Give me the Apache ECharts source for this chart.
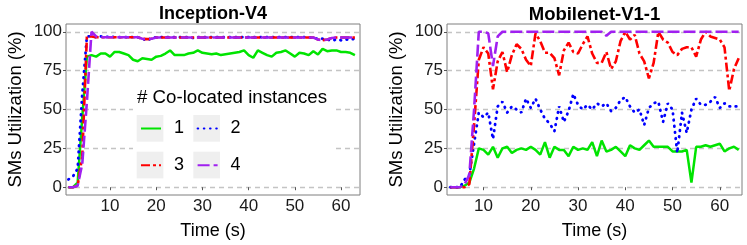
<!DOCTYPE html>
<html><head><meta charset="utf-8">
<script src="https://cdn.jsdelivr.net/npm/echarts@6/dist/echarts.min.js"></script>
<style>html,body{margin:0;padding:0;background:#fff}#c{width:747px;height:245px}</style>
</head><body><div id="c"></div>
<script>
// ---------- data ----------
const inceptionTime = [1,2,3,4,5,6,7,8,9,10,11,12,13,14,15,16,17,18,19,20,21,22,23,24,25,26,27,28,29,30,31,32,33,34,35,36,37,38,39,40,41,42,43,44,45,46,47,48,49,50,51,52,53,54,55,56,57,58,59,60,61,62,63];
const inception1 = [0,0,3,45,84,85,84,86,86,84,87,87,86,85,82,81,83,82.5,82,84,84.5,86,88,85,85,85,86,86.5,88,86.5,86,85.5,86,85,85.5,86,86.5,87,88,85,83.3,88,86.5,85,84,86.5,87,88,86,84,86.5,86,85,87.5,85.4,89,87.5,88,88,87,87,86.5,85];
const inception2 = [5,7,12,60,97,97,96.5,97,96.5,97,96.5,96.5,96.5,96.5,96.5,96.5,95.5,94.3,96,96.5,96.5,96.5,96.5,96.5,96.5,96.5,96.5,96,96.5,96.5,96.5,96.5,96.5,96.5,96.5,96.5,96.5,96.5,96.5,96.5,96.5,96.5,96.5,96.5,96.5,96.5,96.5,96.5,96.5,96.5,96.5,96.5,96.5,96,95.5,95.5,95,94.3,95,94.5,95,95,95.5];
const inception3 = [0,0,1,20,97,97,96.5,96.5,96.5,96.5,96.5,96.5,96.5,96.5,96.5,96.5,95.5,95.3,95.5,96.3,96.3,96.3,96.3,96.3,96.3,96.3,96.3,96.3,96.3,96.3,96.3,96.3,96.3,96.3,96.3,96.3,96.3,96.3,96.3,96.3,96.3,96.3,96.3,96.3,96.3,96.3,96.3,96.3,96.3,96.3,96.3,96.3,96.3,96.3,95,94.6,95,96,96.3,96.3,96.3,96.3,96.3];
const inception4 = [0,0,1,15,55,100,97,96.5,96.5,96.5,96.5,96.5,96.5,96.5,96.5,96.5,95.5,95.3,95.5,96.3,96.3,96.3,96.3,96.3,96.3,96.3,96.3,96.3,96.3,96.3,96.3,96.3,96.3,96.3,96.3,96.3,96.3,96.3,96.3,96.3,96.3,96.3,96.3,96.3,96.3,96.3,96.3,96.3,96.3,96.3,96.3,96.3,96.3,96.3,95,94.6,95,96,96.3,96.3,96.3,96.3,96.3];

const mobilenetTime = [3,4,5,6,7,8,9,10,11,12,13,14,15,16,17,18,19,20,21,22,23,24,25,26,27,28,29,30,31,32,33,34,35,36,37,38,39,40,41,42,43,44,45,46,47,48,49,50,51,52,53,54,55,56,57,58,59,60,61,62,63,64];
const mobilenet1 = [0,0,0,1,3,12,25,24,21,26,19,25,26,22,24,25,24,26,24,21,29,19,26,24,24,20,26,24,25,24,29,20,30,23,24,26,23,20,27,25,24,27,30,26,26,26,26,23,23,23,24,3,26,26,27,26,27,28,23,25,26,24];
const mobilenet2 = [0,0,0,5,8,28,48,45,48,31,52,55,48,52,50,48,57,51,57,50,44,41,36,52,42,49,60,53,50,53,50,54,52,54,49,51,56,58,52,48,50,40,51,54,55,42,54,50,22,48,35,50,57,53,53,55,58,51,54,52,52,52];
const mobilenet3 = [0,0,0,0,2,40,82,90,86,63,81,87,74,85,92,89,82,78,99,94,86.5,86.5,83,72,88,93,87,86,92,97,86,80,80,87,76,81,94,100,95,98,86,81,70,80,100,95,93,87,85,89,90,90,84,95,100,97,96,95,90,62,76,83];
const mobilenet4 = [0,0,0,2,8,50,100,100,99,78,97,100,100,100,100,100,100,100,100,100,100,100,100,100,100,100,100,100,100,100,100,100,100,97.5,100,100,100,100,100,100,100,100,100,100,100,100,100,100,100,100,100,100,100,100,100,100,100,100,100,100,100,100];

const instanceNames = ['1','2','3','4'];
const panelTitles = ['Inception-V4','Mobilenet-V1-1'];
const yTicks = [0,25,50,75,100];
const xTicks = [10,20,30,40,50,60];

// ---------- styling ----------
const FONT = '"Liberation Sans", Arial, Helvetica, sans-serif';
const lineStyles = [
  {color:'#00E400', type:'solid', width:2.5},
  {color:'#0000FF', type:[0.6,5.6], width:2.8, cap:'round'},
  {color:'#FF0000', type:[9,3,3,3], width:2.6},
  {color:'#A020F0', type:[12,4], width:2.6}
];
function pairs(ts, vs){ return vs.map((v,i)=>[ts[i], v]); }

const panels = [
  {time: inceptionTime, lines:[inception1,inception2,inception3,inception4], left:66, width:294, xmin:0.48, xmax:64.1},
  {time: mobilenetTime, lines:[mobilenet1,mobilenet2,mobilenet3,mobilenet4], left:447, width:295, xmin:2.27, xmax:64.7}
];

const grids=[], xAxes=[], yAxes=[], series=[], titles=[];
panels.forEach((p,pi)=>{
  grids.push({left:p.left, top:24, width:p.width, height:173, show:true, borderColor:'#7f7f7f', borderWidth:1, backgroundColor:'rgba(0,0,0,0)'});
  xAxes.push({gridIndex:pi, type:'value', min:p.xmin, max:p.xmax,
    axisLine:{show:false},
    axisTick:{show:true, length:3, customValues:xTicks, lineStyle:{color:'#555'}},
    axisLabel:{customValues:xTicks, fontSize:17, color:'#1a1a1a', margin:3, fontFamily:FONT},
    splitLine:{show:false},
    name:'Time (s)', nameLocation:'middle', nameGap:27,
    nameTextStyle:{fontSize:18, color:'#000', fontFamily:FONT}});
  yAxes.push({gridIndex:pi, type:'value', min:-5, max:105,
    axisLine:{show:false},
    axisTick:{show:true, length:3, customValues:yTicks, lineStyle:{color:'#555'}},
    axisLabel:{customValues:yTicks, fontSize:17, color:'#1a1a1a', margin:4, fontFamily:FONT},
    splitLine:{show:true, lineStyle:{color:'#C4C4C4', type:[5,4], width:1.3}},
    name:'SMs Utilization (%)', nameLocation:'middle', nameGap:41,
    nameTextStyle:{fontSize:18.5, color:'#000', fontFamily:FONT}});
  p.lines.forEach((vals,li)=>{
    series.push({type:'line', name:instanceNames[li], xAxisIndex:pi, yAxisIndex:pi,
      data:pairs(p.time, vals), symbol:'none', showSymbol:false, silent:true, animation:false,
      lineStyle:lineStyles[li], itemStyle:{color:lineStyles[li].color}});
  });
  titles.push({text:panelTitles[pi], left:p.left + p.width/2, top:5, textAlign:'center', padding:0,
    textStyle:{fontSize:pi===0?18:18.5, fontWeight:'bold', color:'#000', fontFamily:FONT}});
});
titles.push({text:'# Co-located instances', left:137, top:88, padding:0,
  textStyle:{fontSize:18.7, fontWeight:'normal', color:'#000', fontFamily:FONT}});

const keyPos = [[136.7,115],[193.3,115],[136.7,151.7],[193.3,151.7]];
const legends = instanceNames.map((n,i)=>({
  data:[n], left:keyPos[i][0]+3.3, top:keyPos[i][1]+4.5, itemWidth:20, itemHeight:18,
  padding:0, selectedMode:false,
  itemStyle:{opacity:0, borderWidth:0},
  textStyle:{fontSize:18, color:'#000', fontFamily:FONT, padding:[0,0,0,8]}
}));

const graphic = [
  {type:'rect', left:133, top:82, shape:{width:200, height:101}, style:{fill:'#fff'}, z:1, z2:0, silent:true}
].concat(keyPos.map(k=>({type:'rect', left:k[0], top:k[1], shape:{width:26.7, height:26.7}, style:{fill:'#EFEFEF'}, z:1, z2:1, silent:true})));

const chart = echarts.init(document.getElementById('c'), null, {renderer:'canvas'});
chart.setOption({
  animation:false,
  backgroundColor:'#fff',
  textStyle:{fontFamily:FONT},
  title:titles, grid:grids, xAxis:xAxes, yAxis:yAxes, legend:legends,
  graphic:graphic, series:series
});
</script></body></html>
